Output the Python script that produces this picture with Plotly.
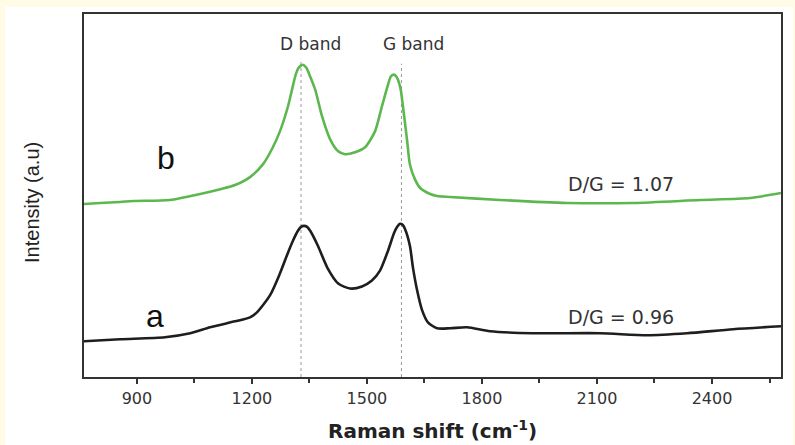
import plotly.graph_objects as go

# Raman shift (cm^-1) and intensity (a.u.)
shift_b = [762, 804, 856, 890, 986, 1065, 1120, 1156, 1195, 1229, 1252, 1273, 1294, 1307, 1315, 1322,
           1333, 1342, 1350, 1365, 1383, 1404, 1425, 1443, 1469, 1495, 1521, 1539, 1555, 1562,
           1568, 1575, 1581, 1588, 1594, 1605, 1612, 1625, 1639, 1665, 1683, 1717, 1847, 2022,
           2194, 2369, 2499, 2580]
int_b = [174, 175, 176, 177, 178, 184, 189, 193, 201, 214, 229, 247, 272, 293, 305, 311,
         314, 311, 304, 289, 262, 239, 227, 224, 226, 231, 247, 272, 294, 302,
         304, 303, 299, 289, 272, 237, 214, 199, 190, 184, 182, 181, 178, 175,
         175, 178, 180, 185]

shift_a = [762, 856, 973, 1039, 1091, 1156, 1195, 1213, 1247, 1273, 1294, 1307, 1320, 1328,
           1336, 1344, 1352, 1372, 1398, 1425, 1456, 1487, 1513, 1534, 1555, 1571, 1579, 1586,
           1593, 1599, 1612, 1620, 1631, 1644, 1659, 1683, 1717, 1761, 1821, 1933, 2108, 2231,
           2335, 2455, 2580]
int_a = [36, 38, 40, 44, 50, 56, 60, 65, 82, 104, 125, 137, 147, 151,
         152, 151, 147, 132, 109, 94, 89, 91, 97, 107, 127, 145, 151, 154,
         153, 149, 132, 110, 87, 67, 55, 49, 49, 50, 46, 44, 44, 42,
         44, 48, 51]

band_names = ["D band", "G band"]
band_pos = [1328, 1590]
band_top = [320, 315]
band_label_x = [1354, 1622]

ratio_labels = ["D/G = 1.07", "D/G = 0.96"]
ratio_y = [194, 60]
curve_labels = ["b", "a"]
curve_label_xy = [(976, 220), (947, 61)]

x_ticks = [900, 1200, 1500, 1800, 2100, 2400]

fig = go.Figure()

for xpos, top in zip(band_pos, band_top):
    fig.add_trace(go.Scatter(x=[xpos, xpos], y=[0, top], mode="lines",
                             line=dict(color="#9a9a9a", width=1, dash="dot"),
                             hoverinfo="skip", showlegend=False))

fig.add_trace(go.Scatter(x=shift_b, y=int_b, mode="lines",
                         line=dict(color="#5cb84e", width=2.6, shape="spline", smoothing=0.7),
                         showlegend=False))
fig.add_trace(go.Scatter(x=shift_a, y=int_a, mode="lines",
                         line=dict(color="#1e1e1e", width=2.6, shape="spline", smoothing=0.7),
                         showlegend=False))

for name, lx in zip(band_names, band_label_x):
    fig.add_annotation(x=lx, y=335, text=name, showarrow=False, xref="x", yref="y",
                       xanchor="center", yanchor="middle",
                       font=dict(family="DejaVu Sans", size=17, color="#333"))

for txt, yy in zip(ratio_labels, ratio_y):
    fig.add_annotation(x=2163, y=yy, text=txt, showarrow=False, xref="x", yref="y",
                       xanchor="center", yanchor="middle",
                       font=dict(family="DejaVu Sans", size=19, color="#333"))

for txt, (xx, yy) in zip(curve_labels, curve_label_xy):
    fig.add_annotation(x=xx, y=yy, text=txt, showarrow=False, xref="x", yref="y",
                       xanchor="center", yanchor="middle",
                       font=dict(family="Liberation Sans, Arial", size=32, color="#111"))

# axis titles
fig.add_annotation(x=(432 - 84) / 697, y=-(430 - 377) / 365, xref="paper", yref="paper",
                   xanchor="center", yanchor="middle",
                   text="<b>Raman shift (cm<sup>-1</sup>)</b>", showarrow=False,
                   font=dict(family="DejaVu Sans", size=20, color="#222"))
fig.add_annotation(x=-(84 - 32) / 697, y=(377 - 202) / 365, xref="paper", yref="paper",
                   xanchor="center", yanchor="middle",
                   text="Intensity (a.u)", textangle=-90, showarrow=False,
                   font=dict(family="Liberation Sans, Arial", size=20, color="#222"))

# background: pale border on top/left/right
fig.add_shape(type="rect", xref="paper", yref="paper",
              x0=-(84 - 5) / 697, x1=1 + (793 - 781) / 697,
              y0=-(445 - 377) / 365 - 0.01, y1=1 + (12 - 5) / 365,
              fillcolor="white", line=dict(width=0), layer="below")

fig.update_layout(
    width=795, height=445,
    margin=dict(l=84, r=14, t=12, b=68),
    paper_bgcolor="#fffbe6", plot_bgcolor="rgba(0,0,0,0)",
    showlegend=False,
)
fig.update_xaxes(range=[762, 2580], tickvals=x_ticks, ticks="outside", ticklen=5, tickwidth=2,
                 tickcolor="#333", showgrid=False, zeroline=False, showline=True, mirror=True,
                 linecolor="#333", linewidth=2, ticklabelstandoff=1,
                 tickfont=dict(family="DejaVu Sans", size=16, color="#333"),
                 minor=dict(tickvals=[1050, 1350, 1650, 1950, 2250, 2550], ticks="outside",
                            ticklen=4, tickwidth=2, tickcolor="#333"))
fig.update_yaxes(range=[0, 365], showticklabels=False, ticks="", showgrid=False, zeroline=False,
                 showline=True, mirror=True, linecolor="#333", linewidth=2)

fig.write_html("out.html")
